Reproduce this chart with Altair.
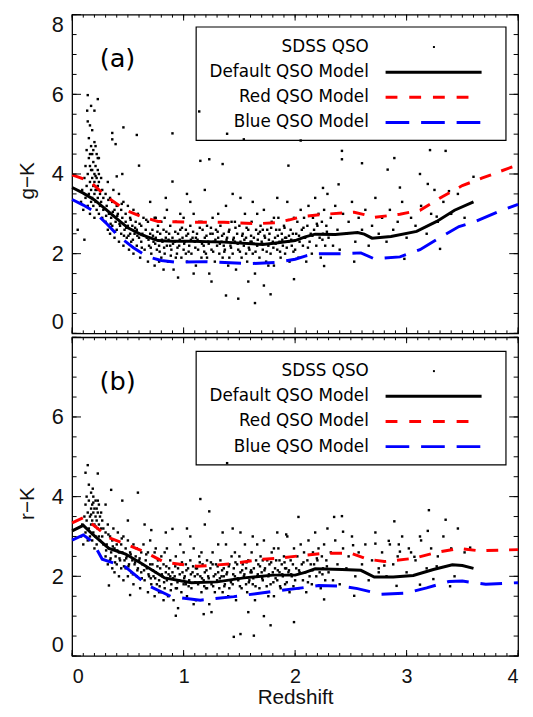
import altair as alt
import pandas as pd

FONT = "Liberation Sans"
LEG_FONT = "DejaVu Sans"
W, H = 452, 323

# ---------------- data ----------------
redshift_major = [0, 1, 2, 3, 4]
redshift_minor = [round(i * 0.1, 1) for i in range(41)]
color_major = [0, 2, 4, 6, 8]
color_labels_a = [0, 2, 4, 6, 8]
color_labels_b = [0, 2, 4, 6]
color_minor = [i * 0.5 for i in range(17)]

# SDSS QSO sample, panel (a): (redshift, g-K)
qso_a = [
    (0.08,3.3),(0.09,3.6),(0.10,3.1),(0.11,3.9),(0.12,3.4),(0.12,4.2),(0.13,3.7),(0.13,4.6),(0.14,3.2),(0.14,4.0),
    (0.15,3.5),(0.15,4.4),(0.15,4.9),(0.16,3.8),(0.16,4.2),(0.16,3.0),(0.17,3.6),(0.17,4.7),(0.17,4.1),(0.18,3.4),
    (0.18,3.9),(0.18,4.5),(0.18,5.1),(0.19,3.2),(0.19,3.7),(0.19,4.3),(0.20,3.5),(0.20,4.0),(0.20,4.8),(0.20,2.9),
    (0.21,3.6),(0.21,4.2),(0.21,3.3),(0.22,3.9),(0.22,4.5),(0.22,3.1),(0.23,3.7),(0.23,4.1),(0.23,3.4),(0.24,3.8),
    (0.24,3.0),(0.24,4.4),(0.25,3.5),(0.25,3.2),(0.26,3.9),(0.26,3.3),(0.27,3.6),(0.27,2.9),(0.28,3.4),(0.28,3.1),
    (0.19,4.6),(0.21,4.7),(0.17,3.3),(0.23,4.4),(0.20,3.8),(0.22,3.6),(0.18,4.1),(0.24,4.0),(0.16,4.5),(0.21,3.95),
    (0.14,5.98),(0.23,5.88),(0.17,5.71),(0.135,5.59),(0.20,5.59),(0.14,5.32),(0.16,5.22),(0.36,5.03),(0.36,4.87),(0.39,4.75),
    (0.46,5.17),(0.58,4.98),(0.60,4.21),(0.40,3.94),(0.90,5.02),(0.90,3.81),(1.15,4.33),(1.23,4.37),(1.35,4.25),(0.45,4.0),
    (0.11,2.35),(1.49,0.87),(1.64,0.76),(1.78,0.98),(1.38,0.95),(1.14,5.57),(1.39,5.01),(1.54,4.87),(2.05,4.84),(3.21,4.60),
    (3.35,4.58),(2.42,4.58),(2.42,4.37),(2.60,4.27),(2.89,4.40),(1.94,4.21),(2.83,4.11),(3.12,4.0),(3.19,3.75),(2.94,3.66),
    (3.25,3.6),(2.25,3.65),(2.39,3.74),(1.99,1.36),(2.26,1.69),(2.53,1.80),(2.98,1.87),(3.30,2.12),(3.27,2.93),(3.38,3.57),
    (3.60,3.93),(0.05,2.6),
    (0.30,3.5),(0.30,2.8),(0.31,3.2),(0.32,2.6),(0.32,3.8),(0.33,3.0),(0.34,3.4),(0.34,2.5),(0.35,2.9),(0.36,3.3),
    (0.36,2.7),(0.37,3.6),(0.38,3.1),(0.38,2.4),(0.39,2.8),(0.40,3.2),(0.40,2.6),(0.41,3.0),(0.42,2.3),(0.42,3.5),
    (0.43,2.7),(0.44,3.1),(0.44,2.5),(0.45,2.9),(0.46,2.2),(0.46,3.3),(0.47,2.6),(0.48,2.8),(0.48,3.0),(0.49,2.4),
    (0.50,2.7),(0.50,3.2),(0.51,2.1),(0.52,2.5),(0.52,2.9),(0.53,2.3),(0.54,2.7),(0.55,3.1),(0.55,2.0),(0.56,2.5),
    (0.57,2.8),(0.58,2.2),(0.58,2.6),(0.59,3.0),(0.60,2.4),(0.61,1.9),(0.62,2.7),(0.62,2.3),(0.63,2.5),(0.64,2.9),
    (0.65,2.1),(0.66,2.6),(0.67,2.4),(0.68,1.8),(0.68,2.8),(0.69,2.2),(0.70,2.5),(0.70,3.3),
    (0.71,2.0),(0.72,2.6),(0.73,2.3),(0.74,1.7),(0.74,2.9),(0.75,2.4),(0.76,2.1),(0.77,2.7),(0.78,2.2),(0.79,2.5),
    (0.80,1.9),(0.80,2.8),(0.81,2.3),(0.82,2.6),(0.83,2.0),(0.84,2.4),(0.85,3.1),(0.85,2.2),(0.86,1.8),(0.87,2.5),
    (0.88,2.7),(0.89,2.1),(0.90,2.4),(0.91,1.6),(0.92,2.3),(0.93,2.8),(0.94,2.0),(0.95,2.5),(0.96,2.2),(0.97,2.6),
    (0.98,1.9),(0.99,2.4),(1.00,2.9),(1.00,2.1),(1.01,2.3),(1.02,2.6),(1.03,1.8),(1.04,2.5),(1.05,2.2),(1.06,2.7),
    (1.07,2.0),(1.08,2.4),(1.09,3.0),(1.10,2.3),(1.11,1.7),(1.12,2.5),(1.13,2.1),(1.14,2.8),(1.15,2.3),(1.16,1.9),
    (1.17,2.6),(1.18,2.2),(1.19,2.4),(1.20,2.0),(1.21,2.7),(1.22,2.3),(1.23,1.5),(1.24,2.5),(1.25,2.1),(1.26,2.9),
    (1.27,2.3),(1.28,1.8),(1.29,2.6),(1.30,2.2),(1.31,2.4),(1.32,2.0),(1.33,2.7),(1.34,2.3),(1.35,1.9),(1.36,2.5),
    (1.37,2.1),(1.38,3.2),(1.39,2.4),(1.40,1.7),(1.41,2.6),(1.42,2.2),(1.43,2.8),(1.44,2.0),(1.45,2.4),(1.46,2.3),
    (1.47,1.6),(1.48,2.5),(1.49,2.1),(1.50,2.7),(1.51,2.3),(1.52,1.9),(1.53,2.5),(1.54,2.2),(1.55,3.0),(1.56,2.4),
    (1.57,1.8),(1.58,2.6),(1.59,2.1),(1.60,2.3),(1.61,2.8),(1.62,2.0),(1.63,2.4),(1.64,1.5),(1.65,2.6),(1.66,2.2),
    (1.67,2.5),(1.68,1.9),(1.69,2.7),(1.70,2.3),(1.71,2.1),(1.72,3.1),(1.73,2.4),(1.74,1.8),(1.75,2.6),(1.76,2.2),
    (1.77,2.5),(1.78,2.0),(1.79,2.8),(1.80,2.3),(1.81,1.7),(1.82,2.4),(1.83,2.6),(1.84,2.1),(1.85,2.9),(1.86,2.3),
    (1.87,1.9),(1.88,2.5),(1.89,2.2),(1.90,2.7),(1.91,2.0),(1.92,2.4),(1.93,3.3),(1.94,2.3),(1.95,1.8),(1.96,2.6),
    (1.97,2.2),(1.98,2.5),(1.99,2.9),(2.00,2.1),
    (0.75,2.9),(0.78,1.8),(0.83,2.9),(0.88,2.2),(0.93,1.9),(0.97,3.0),(1.02,2.0),(1.06,3.3),(1.11,2.4),(1.16,2.8),
    (1.21,1.9),(1.26,2.5),(1.31,3.0),(1.36,2.2),(1.41,1.9),(1.46,2.8),(1.51,3.4),(1.56,2.0),(1.61,2.3),(1.66,3.0),
    (1.71,2.6),(1.76,1.7),(1.81,2.9),(1.86,2.6),(1.91,2.4),(0.84,3.4),(1.03,3.5),(1.19,3.6),(1.44,3.5),(1.62,3.3),
    (1.84,3.4),(0.95,1.4),(1.25,1.3),(1.58,1.3),(1.72,1.2),(0.82,1.6),(1.09,1.5),
    (0.305,2.95),(0.325,3.35),(0.345,2.75),(0.365,3.05),(0.385,2.55),(0.405,2.95),(0.425,2.75),(0.445,3.25),(0.465,2.45),(0.485,2.65),
    (0.505,2.45),(0.525,2.85),(0.545,2.35),(0.565,2.65),(0.585,2.45),(0.605,2.75),(0.625,2.15),(0.645,2.45),(0.665,2.85),(0.685,2.35),
    (0.705,2.15),(0.725,2.45),(0.745,2.25),(0.765,2.55),(0.785,2.05),(0.805,2.35),(0.825,2.15),(0.845,2.55),(0.865,2.35),(0.885,1.95),
    (0.905,2.25),(0.925,2.55),(0.945,2.15),(0.965,2.35),(0.985,2.65),(1.005,2.25),(1.025,2.45),(1.045,2.05),(1.065,2.35),(1.085,2.55),
    (1.105,2.15),(1.125,2.35),(1.145,2.65),(1.165,2.25),(1.185,2.05),(1.205,2.45),(1.225,2.25),(1.245,2.65),(1.265,2.05),(1.285,2.35),
    (1.305,2.55),(1.325,2.25),(1.345,2.45),(1.365,2.05),(1.385,2.35),(1.405,2.55),(1.425,2.15),(1.445,2.35),(1.465,2.65),(1.485,2.25),
    (1.505,2.05),(1.525,2.45),(1.545,2.35),(1.565,2.65),(1.585,2.15),(1.605,2.45),(1.625,2.25),(1.645,2.05),(1.665,2.35),(1.685,2.55),
    (1.705,2.25),(1.725,2.45),(1.745,2.05),(1.765,2.35),(1.785,2.65),(1.805,2.15),(1.825,2.25),(1.845,2.45),(1.865,2.05),(1.885,2.35),
    (1.905,2.65),(1.925,2.15),(1.945,2.45),(1.965,2.35),(1.985,2.05),(2.035,2.45),(2.075,2.65),(2.115,2.15),(2.155,2.45),(2.195,2.75),
    (2.245,2.35),(2.285,2.55),
    (2.01,2.5),(2.02,2.8),(2.03,1.9),(2.04,2.3),(2.05,3.1),(2.06,2.6),(2.07,2.2),(2.08,2.9),(2.09,2.4),(2.10,1.8),
    (2.11,2.7),(2.12,3.2),(2.13,2.3),(2.14,2.5),(2.15,2.0),(2.16,2.9),(2.17,2.6),(2.18,3.4),(2.19,2.2),(2.20,2.7),
    (2.21,3.0),(2.22,2.4),(2.23,1.9),(2.24,2.8),(2.25,2.5),(2.26,3.1),(2.27,2.2),(2.28,2.7),(2.29,3.5),(2.30,2.4),
    (2.32,2.9),(2.34,2.2),(2.36,3.2),(2.38,2.6),(2.40,2.1),(2.43,3.0),(2.46,2.5),(2.48,2.8),(2.51,3.3),(2.54,2.3),
    (2.57,2.9),(2.60,2.6),(2.63,3.1),(2.66,2.2),(2.69,2.7),(2.72,3.4),(2.75,2.5),(2.78,2.9),(2.82,2.3),(2.85,3.1),
    (2.88,2.6),(2.92,2.8),(2.96,3.3),(3.00,2.4),(3.04,2.9),(3.08,2.7),(3.13,3.2),(3.18,2.5),(3.22,3.0),(3.28,2.8),
    (3.33,3.3),(3.40,3.0),(3.46,3.5),(3.52,2.9),
]

# SDSS QSO sample, panel (b): (redshift, r-K)
qso_b = [
    (0.08,3.0),(0.09,3.3),(0.10,2.8),(0.11,3.5),(0.12,3.1),(0.12,3.8),(0.13,3.4),(0.13,4.0),(0.14,2.9),(0.14,3.6),
    (0.15,3.2),(0.15,3.9),(0.15,4.3),(0.16,3.5),(0.16,3.0),(0.17,3.7),(0.17,3.3),(0.17,4.1),(0.18,3.4),(0.18,3.8),
    (0.18,2.9),(0.19,3.6),(0.19,3.1),(0.19,4.0),(0.20,3.3),(0.20,3.7),(0.20,2.7),(0.21,3.5),(0.21,3.9),(0.21,3.0),
    (0.22,3.4),(0.22,3.7),(0.22,2.8),(0.23,3.2),(0.23,3.6),(0.24,3.0),(0.24,3.8),(0.24,3.3),(0.25,3.5),(0.25,2.9),
    (0.26,3.2),(0.26,3.6),(0.27,3.0),(0.27,3.4),(0.28,2.8),(0.28,3.2),(0.19,3.85),(0.21,3.25),(0.17,3.55),(0.23,3.9),
    (0.14,4.79),(0.23,4.58),(0.185,4.2),(0.35,4.17),(0.59,4.10),(0.45,3.9),(0.71,3.16),(0.90,3.19),(1.15,3.94),(1.23,3.63),
    (1.35,3.1),(1.39,4.84),(0.33,1.77),(0.52,1.53),(0.93,1.01),(1.18,1.05),(1.78,0.77),(1.99,0.85),(1.45,0.48),(1.51,0.55),
    (1.63,0.51),(2.03,3.49),(2.35,3.49),(2.42,3.51),(2.43,3.12),(1.92,3.05),(2.89,3.38),(3.20,3.66),(3.35,3.42),(3.19,3.14),
    (3.12,3.0),(2.84,2.89),(2.93,2.80),(2.94,2.62),(2.72,2.82),(2.52,2.78),(3.57,2.72),(2.26,1.42),(2.53,1.51),(2.91,1.76),
    (3.12,1.79),(3.24,1.93),(3.39,1.75),(3.43,2.0),(3.27,2.25),(2.75,2.1),(2.80,2.27),(3.02,2.70),(3.07,2.49),(0.12,4.6),
    (0.30,3.8),(0.50,3.4),(0.65,3.3),
    (0.30,3.1),(0.30,2.5),(0.31,2.8),(0.32,3.3),(0.32,2.3),(0.33,2.7),(0.34,3.0),(0.34,2.4),(0.35,2.6),(0.36,2.9),
    (0.36,2.2),(0.37,3.2),(0.38,2.7),(0.38,2.1),(0.39,2.5),(0.40,2.8),(0.40,2.3),(0.41,3.1),(0.42,2.6),(0.42,2.0),
    (0.43,2.4),(0.44,2.8),(0.44,2.2),(0.45,2.6),(0.46,3.0),(0.46,1.9),(0.47,2.4),(0.48,2.7),(0.48,2.2),(0.49,2.5),
    (0.50,2.9),(0.50,2.0),(0.51,2.3),(0.52,2.6),(0.53,2.1),(0.54,2.4),(0.55,2.8),(0.55,1.8),(0.56,2.3),(0.57,2.5),
    (0.58,2.0),(0.58,2.7),(0.59,2.2),(0.60,2.4),(0.61,1.7),(0.62,2.6),(0.62,2.1),(0.63,2.3),(0.64,2.8),(0.65,1.9),
    (0.66,2.4),(0.67,2.2),(0.68,1.6),(0.68,2.6),(0.69,2.0),(0.70,2.3),(0.70,2.9),
    (0.71,1.8),(0.72,2.3),(0.73,2.0),(0.74,1.5),(0.74,2.6),(0.75,2.1),(0.76,1.8),(0.77,2.4),(0.78,1.9),(0.79,2.2),
    (0.80,1.6),(0.80,2.5),(0.81,2.0),(0.82,2.3),(0.83,1.7),(0.84,2.1),(0.85,2.7),(0.85,1.9),(0.86,1.5),(0.87,2.2),
    (0.88,2.4),(0.89,1.8),(0.90,2.1),(0.91,1.4),(0.92,2.0),(0.93,2.5),(0.94,1.7),(0.95,2.2),(0.96,1.9),(0.97,2.3),
    (0.98,1.6),(0.99,2.1),(1.00,2.6),(1.00,1.8),(1.01,2.0),(1.02,2.3),(1.03,1.5),(1.04,2.2),(1.05,1.9),(1.06,2.4),
    (1.07,1.7),(1.08,2.1),(1.09,2.7),(1.10,2.0),(1.11,1.4),(1.12,2.2),(1.13,1.8),(1.14,2.5),(1.15,2.0),(1.16,1.6),
    (1.17,2.3),(1.18,1.9),(1.19,2.1),(1.20,1.7),(1.21,2.4),(1.22,2.0),(1.23,1.3),(1.24,2.2),(1.25,1.8),(1.26,2.6),
    (1.27,2.0),(1.28,1.6),(1.29,2.3),(1.30,1.9),(1.31,2.1),(1.32,1.7),(1.33,2.4),(1.34,2.0),(1.35,1.6),(1.36,2.2),
    (1.37,1.8),(1.38,2.8),(1.39,2.1),(1.40,1.5),(1.41,2.3),(1.42,1.9),(1.43,2.5),(1.44,1.8),(1.45,2.2),(1.46,2.0),
    (1.47,1.4),(1.48,2.3),(1.49,1.9),(1.50,2.5),(1.51,2.1),(1.52,1.7),(1.53,2.3),(1.54,2.0),(1.55,2.8),(1.56,2.2),
    (1.57,1.6),(1.58,2.4),(1.59,1.9),(1.60,2.1),(1.61,2.6),(1.62,1.8),(1.63,2.2),(1.64,1.4),(1.65,2.4),(1.66,2.0),
    (1.67,2.3),(1.68,1.7),(1.69,2.5),(1.70,2.1),(1.71,1.9),(1.72,2.9),(1.73,2.2),(1.74,1.6),(1.75,2.4),(1.76,2.0),
    (1.77,2.3),(1.78,1.8),(1.79,2.6),(1.80,2.1),(1.81,1.5),(1.82,2.2),(1.83,2.4),(1.84,1.9),(1.85,2.7),(1.86,2.1),
    (1.87,1.7),(1.88,2.3),(1.89,2.0),(1.90,2.5),(1.91,1.8),(1.92,2.2),(1.93,3.0),(1.94,2.1),(1.95,1.6),(1.96,2.4),
    (1.97,2.0),(1.98,2.3),(1.99,2.7),(2.00,1.9),
    (0.75,2.7),(0.78,1.6),(0.83,2.6),(0.88,2.0),(0.93,1.7),(0.97,2.8),(1.02,1.8),(1.06,3.0),(1.11,2.2),(1.16,2.6),
    (1.21,1.7),(1.26,2.3),(1.31,2.8),(1.36,2.0),(1.41,1.7),(1.46,2.6),(1.51,3.1),(1.56,1.8),(1.61,2.1),(1.66,2.8),
    (1.71,2.4),(1.76,1.5),(1.81,2.7),(1.86,2.4),(1.91,2.2),(0.84,3.1),(1.03,3.2),(1.19,3.3),(1.44,3.2),(1.62,3.0),
    (1.84,3.1),(0.95,1.2),(1.25,1.1),(1.58,1.1),(1.72,1.0),(0.82,1.4),(1.09,1.3),
    (0.305,2.65),(0.325,3.05),(0.345,2.45),(0.365,2.75),(0.385,2.35),(0.405,2.65),(0.425,2.45),(0.445,2.95),(0.465,2.25),(0.485,2.45),
    (0.505,2.25),(0.525,2.55),(0.545,2.05),(0.565,2.35),(0.585,2.15),(0.605,2.45),(0.625,1.95),(0.645,2.15),(0.665,2.55),(0.685,2.05),
    (0.705,1.95),(0.725,2.15),(0.745,1.95),(0.765,2.25),(0.785,1.75),(0.805,2.05),(0.825,1.85),(0.845,2.25),(0.865,2.05),(0.885,1.65),
    (0.905,1.95),(0.925,2.25),(0.945,1.85),(0.965,2.05),(0.985,2.35),(1.005,1.95),(1.025,2.15),(1.045,1.75),(1.065,2.05),(1.085,2.25),
    (1.105,1.85),(1.125,2.05),(1.145,2.35),(1.165,1.95),(1.185,1.75),(1.205,2.15),(1.225,1.95),(1.245,2.35),(1.265,1.75),(1.285,2.05),
    (1.305,2.25),(1.325,1.95),(1.345,2.15),(1.365,1.75),(1.385,2.05),(1.405,2.25),(1.425,1.85),(1.445,2.05),(1.465,2.35),(1.485,1.95),
    (1.505,1.75),(1.525,2.15),(1.545,2.05),(1.565,2.35),(1.585,1.85),(1.605,2.15),(1.625,1.95),(1.645,1.75),(1.665,2.05),(1.685,2.25),
    (1.705,1.95),(1.725,2.15),(1.745,1.75),(1.765,2.05),(1.785,2.35),(1.805,1.85),(1.825,1.95),(1.845,2.15),(1.865,1.75),(1.885,2.05),
    (1.905,2.35),(1.925,1.85),(1.945,2.15),(1.965,2.05),(1.985,1.75),(2.035,2.15),(2.075,2.35),(2.115,1.85),(2.155,2.15),(2.195,2.45),
    (2.245,2.05),(2.285,2.25),
    (2.01,2.2),(2.02,2.5),(2.03,1.7),(2.04,2.1),(2.05,2.8),(2.06,2.3),(2.07,1.9),(2.08,2.6),(2.09,2.1),(2.10,1.6),
    (2.11,2.4),(2.12,2.9),(2.13,2.0),(2.14,2.3),(2.15,1.8),(2.16,2.6),(2.17,2.3),(2.18,3.1),(2.19,2.0),(2.20,2.4),
    (2.21,2.7),(2.22,2.1),(2.23,1.7),(2.24,2.5),(2.25,2.2),(2.26,2.8),(2.27,1.9),(2.28,2.4),(2.29,3.2),(2.30,2.1),
    (2.32,2.6),(2.34,1.9),(2.36,2.9),(2.38,2.3),(2.40,1.8),(2.43,2.7),(2.46,2.2),(2.48,2.5),(2.51,3.0),(2.54,2.0),
    (2.57,2.6),(2.60,2.3),(2.63,2.8),(2.66,1.9),(2.69,2.4),(2.72,3.1),(2.75,2.2),(2.78,2.6),(2.82,2.0),(2.85,2.8),
    (2.88,2.3),(2.92,2.5),(2.96,3.0),(3.00,2.1),(3.04,2.6),(3.08,2.4),(3.13,2.9),(3.18,2.2),(3.22,2.7),(3.28,2.5),
    (3.33,3.0),(3.40,2.7),(3.46,3.2),(3.52,2.6),
]

# Model tracks, panel (a): g-K
def_a_z = [0, 0.10, 0.20, 0.30, 0.40, 0.50, 0.62, 0.77, 0.90, 1.07, 1.36, 1.71, 1.83, 2.00, 2.09, 2.18, 2.36, 2.56, 2.62, 2.69, 2.86, 3.09, 3.27, 3.43, 3.60]
def_a_v = [3.66, 3.52, 3.35, 3.12, 2.88, 2.65, 2.48, 2.33, 2.31, 2.31, 2.29, 2.23, 2.27, 2.33, 2.42, 2.49, 2.48, 2.53, 2.49, 2.39, 2.43, 2.56, 2.81, 3.09, 3.30]
red_a_z = [0, 0.10, 0.185, 0.30, 0.48, 0.62, 0.77, 1.07, 1.36, 1.65, 1.83, 1.95, 2.06, 2.27, 2.53, 2.62, 2.71, 2.94, 3.12, 3.32, 3.50, 3.68, 3.94, 4.0]
red_a_v = [3.98, 3.88, 3.75, 3.45, 3.09, 2.93, 2.81, 2.79, 2.79, 2.75, 2.78, 2.85, 2.93, 2.99, 3.04, 2.98, 2.91, 2.99, 3.09, 3.43, 3.71, 3.90, 4.17, 4.22]
blue_a_z = [0, 0.10, 0.185, 0.30, 0.42, 0.55, 0.68, 0.80, 0.92, 1.21, 1.59, 1.83, 2.00, 2.09, 2.18, 2.42, 2.59, 2.71, 2.94, 3.12, 3.32, 3.47, 3.62, 3.82, 4.0]
blue_a_v = [3.36, 3.22, 3.08, 2.78, 2.43, 2.15, 1.92, 1.83, 1.79, 1.80, 1.75, 1.78, 1.86, 1.94, 2.00, 2.00, 2.02, 1.87, 1.92, 2.10, 2.44, 2.68, 2.81, 3.05, 3.24]

# Model tracks, panel (b): r-K
def_b_z = [0, 0.10, 0.185, 0.33, 0.48, 0.63, 0.83, 1.07, 1.30, 1.54, 1.80, 2.00, 2.09, 2.18, 2.42, 2.59, 2.71, 2.88, 3.06, 3.24, 3.41, 3.50, 3.60]
def_b_v = [3.14, 3.28, 3.05, 2.70, 2.56, 2.31, 1.96, 1.84, 1.86, 1.96, 2.03, 2.03, 2.10, 2.19, 2.17, 2.15, 1.98, 1.98, 2.02, 2.17, 2.29, 2.27, 2.20]
red_b_z = [0, 0.10, 0.185, 0.33, 0.63, 0.83, 1.12, 1.42, 1.71, 1.83, 2.06, 2.27, 2.50, 2.65, 2.80, 3.06, 3.27, 3.47, 3.65, 4.0]
red_b_v = [3.34, 3.47, 3.30, 2.97, 2.64, 2.35, 2.25, 2.31, 2.43, 2.45, 2.52, 2.58, 2.58, 2.43, 2.37, 2.45, 2.60, 2.70, 2.64, 2.67]
blue_b_z = [0, 0.10, 0.185, 0.27, 0.48, 0.68, 0.89, 1.15, 1.45, 1.80, 2.06, 2.21, 2.42, 2.56, 2.77, 3.00, 3.18, 3.38, 3.50, 3.71, 4.0]
blue_b_v = [2.91, 3.04, 2.86, 2.43, 2.23, 1.77, 1.49, 1.40, 1.49, 1.62, 1.71, 1.77, 1.75, 1.69, 1.55, 1.58, 1.71, 1.87, 1.88, 1.80, 1.84]

legend_labels = ["SDSS QSO", "Default QSO Model", "Red QSO Model", "Blue QSO Model"]


def panel(qso, tracks, ytitle, ylabels, tag, box_top, row_top, show_x):
    xs = alt.Scale(domain=[0, 4], nice=False, zero=False)
    ys = alt.Scale(domain=[0, 8], nice=False, zero=False)

    if show_x:
        x_axis = alt.Axis(values=redshift_major, ticks=False, tickSize=0, domain=False, grid=False,
                          labelFlush=True, labelOverlap=False, labelPadding=11,
                          labelFontSize=20, titleFontSize=21, titlePadding=0, title="Redshift")
    else:
        x_axis = None
    y_axis = alt.Axis(values=ylabels, ticks=False, tickSize=0, domain=False, grid=False,
                      labelFlush=True, labelOverlap=False, labelPadding=9, title=ytitle,
                      titleX=-45, titleY=168, titleAlign="center", titleBaseline="middle",
                      titleFontSize=21)

    pts = pd.DataFrame(qso, columns=["z", "v"])
    points = alt.Chart(pts).mark_square(size=6, color="black", opacity=1).encode(
        x=alt.X("z:Q", scale=xs, axis=x_axis),
        y=alt.Y("v:Q", scale=ys, axis=y_axis),
    )

    (dz, dv), (rz, rv), (bz, bv) = tracks
    d_df = pd.DataFrame({"z": dz, "v": dv})
    r_df = pd.DataFrame({"z": rz, "v": rv})
    b_df = pd.DataFrame({"z": bz, "v": bv})

    def enc():
        return dict(x=alt.X("z:Q", scale=xs, axis=None), y=alt.Y("v:Q", scale=ys, axis=None))

    line_def = alt.Chart(d_df).mark_line(color="black", strokeWidth=3).encode(**enc())
    line_red = alt.Chart(r_df).mark_line(color="#ff0000", strokeWidth=3, strokeDash=[12, 11]).encode(**enc())
    line_blue = alt.Chart(b_df).mark_line(color="#0000ff", strokeWidth=3, strokeDash=[22, 12]).encode(**enc())

    # inward frame ticks on all four sides
    tick_layers = []
    xmaj = pd.DataFrame({"t": redshift_major})
    xmin = pd.DataFrame({"t": redshift_minor})
    ymaj = pd.DataFrame({"t": color_major})
    ymin = pd.DataFrame({"t": color_minor})
    for df, ln in ((xmaj, 6), (xmin, 3)):
        tx = alt.X("t:Q", scale=xs, axis=None)
        tick_layers.append(alt.Chart(df).mark_rule(color="black", strokeWidth=1).encode(
            x=tx, y=alt.value(H), y2=alt.value(H - ln)))
        tick_layers.append(alt.Chart(df).mark_rule(color="black", strokeWidth=1).encode(
            x=tx, y=alt.value(0), y2=alt.value(ln)))
    for df, ln in ((ymaj, 9), (ymin, 4.5)):
        ty = alt.Y("t:Q", scale=ys, axis=None)
        tick_layers.append(alt.Chart(df).mark_rule(color="black", strokeWidth=1).encode(
            y=ty, x=alt.value(0), x2=alt.value(ln)))
        tick_layers.append(alt.Chart(df).mark_rule(color="black", strokeWidth=1).encode(
            y=ty, x=alt.value(W), x2=alt.value(W - ln)))

    one = pd.DataFrame({"k": [0]})
    lx0, lx1 = 125.7, 439.7
    box = alt.Chart(one).mark_rect(fill=None, stroke="black", strokeWidth=1.2).encode(
        x=alt.value(lx0), x2=alt.value(lx1), y=alt.value(box_top), y2=alt.value(box_top + 115))
    texts = []
    for i, lab in enumerate(legend_labels):
        texts.append(alt.Chart(one).mark_text(align="right", baseline="middle", font=LEG_FONT,
                                              fontSize=17, color="black").encode(
            x=alt.value(300.7), y=alt.value(row_top + 25.5 * i), text=alt.value(lab)))
    dot = alt.Chart(one).mark_square(size=4, color="black", opacity=1).encode(
        x=alt.value(366.7), y=alt.value(row_top))
    s_def = alt.Chart(one).mark_rule(color="black", strokeWidth=3).encode(
        x=alt.value(317.7), x2=alt.value(415), y=alt.value(row_top + 25.5))
    s_red = alt.Chart(one).mark_rule(color="#ff0000", strokeWidth=3, strokeDash=[12, 12]).encode(
        x=alt.value(317.7), x2=alt.value(403), y=alt.value(row_top + 51))
    s_blue = alt.Chart(one).mark_rule(color="#0000ff", strokeWidth=3, strokeDash=[24, 12]).encode(
        x=alt.value(317.7), x2=alt.value(415), y=alt.value(row_top + 76.5))
    tag_t = alt.Chart(one).mark_text(align="center", baseline="middle", font=LEG_FONT,
                                     fontSize=26, color="black").encode(
        x=alt.value(46), y=alt.value(45.5), text=alt.value(tag))

    return alt.layer(points, line_def, line_red, line_blue, *tick_layers, box, *texts, dot,
                     s_def, s_red, s_blue, tag_t).resolve_axis(
        x="independent", y="independent").properties(width=W, height=H)


pa = panel(qso_a, [(def_a_z, def_a_v), (red_a_z, red_a_v), (blue_a_z, blue_a_v)],
           "g\u2212K", color_labels_a, "(a)", 12.5, 32.8, False)
pb = panel(qso_b, [(def_b_z, def_b_v), (red_b_z, red_b_v), (blue_b_z, blue_b_v)],
           "r\u2212K", color_labels_b, "(b)", 14.3, 34.3, True)

chart = alt.vconcat(pa, pb, spacing=0).properties(
    padding={"left": 8, "top": 0, "right": 0, "bottom": -4},
    background="white",
).configure_view(stroke="black", strokeWidth=1.3).configure_axis(
    labelFont=FONT, titleFont=FONT, labelFontSize=22, titleFontSize=23,
    labelColor="#111", titleColor="#111",
    titleFontWeight="normal",
)

chart.save("out.html", embed_options={"renderer": "svg", "actions": False})
